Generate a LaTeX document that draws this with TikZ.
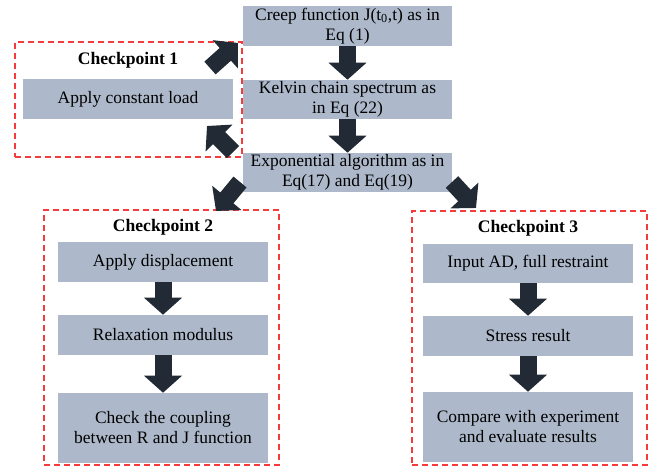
\documentclass[tikz,border=0pt]{standalone}
\usepackage{fontspec}
\setmainfont{Liberation Serif}
\usetikzlibrary{arrows.meta}
\definecolor{boxfill}{HTML}{ADB9CA}
\definecolor{arrowcol}{HTML}{222A35}
\definecolor{dashred}{HTML}{F53B3B}
\tikzset{
  stepbox/.style={fill=boxfill, draw=none, inner sep=0pt, align=center, font=\fontsize{13.1pt}{15pt}\selectfont},
  mainbox/.style={stepbox, minimum width=156.75pt},
  sidebox/.style={stepbox, minimum width=157.5pt},
  cpbox/.style={draw=dashred, line width=1.1pt, dash pattern=on 4.5pt off 3pt, inner sep=0pt},
  cptitle/.style={font=\fontsize{13.2pt}{15pt}\selectfont\bfseries, inner sep=0pt},
  blockarrow/.style={draw=arrowcol, line width=12.75pt, line cap=butt,
    -{Triangle[width=27.75pt, length=12.75pt]}}
}
\begin{document}
\begin{tikzpicture}[x=0.75pt,y=-0.75pt]
\useasboundingbox (0,0) rectangle (649,468);
\fill[white] (0,0) rectangle (649,468);

% dashed checkpoint frames
\node[cpbox, minimum width=170.25pt, minimum height=86.25pt] (cp1) at (128.5,99.5) {};
\node[cpbox, minimum width=176.25pt, minimum height=191.25pt] (cp2) at (161.5,337.5) {};
\node[cpbox, minimum width=176.25pt, minimum height=190.5pt] (cp3) at (529.5,338) {};

% main column
\node[mainbox, minimum height=30pt] (creep) at (347.5,26) {Creep function J(t\textsubscript{0},t) as in\\Eq (1)};
\node[mainbox, minimum height=29.25pt] (kelvin) at (347.5,99.5) {Kelvin chain spectrum as\\in Eq (22)};
\node[mainbox, minimum height=29.25pt] (expo) at (347.5,172.5) {Exponential algorithm as in\\Eq(17) and Eq(19)};

% checkpoint 1
\node[cptitle] (t1) at (128,60) {Checkpoint 1};
\node[sidebox, minimum height=30pt] (load) at (128,99) {Apply constant load};

% checkpoint 2
\node[cptitle] (t2) at (163,227) {Checkpoint 2};
\node[sidebox, minimum height=30pt] (disp) at (163,262) {Apply displacement};
\node[sidebox, minimum height=30pt] (relax) at (163,335) {Relaxation modulus};
\node[sidebox, minimum height=52.5pt] (couple) at (163,428) {Check the coupling\\between R and J function};

% checkpoint 3
\node[cptitle] (t3) at (528,228) {Checkpoint 3};
\node[sidebox, minimum height=29.25pt] (input) at (528,263.5) {Input AD, full restraint};
\node[sidebox, minimum height=30pt] (stress) at (528,336) {Stress result};
\node[sidebox, minimum height=52.5pt] (compare) at (528,427) {Compare with experiment\\and evaluate results};

% arrow end points
\coordinate (u1) at (210,68);
\coordinate (u2) at (238,43);
\coordinate (l1) at (233,152);
\coordinate (l2) at (207,126);
\coordinate (sw1) at (240,182);
\coordinate (sw2) at (216,211);
\coordinate (se1) at (452,182);
\coordinate (se2) at (476,208);

% arrows
\draw[blockarrow] (creep.south) -- (kelvin.north);
\draw[blockarrow] (kelvin.south) -- (expo.north);
\draw[blockarrow] (u1) -- (u2);
\draw[blockarrow] (l1) -- (l2);
\draw[blockarrow] (sw1) -- (sw2);
\draw[blockarrow] (se1) -- (se2);
\draw[blockarrow] (disp.south) -- (relax.north);
\draw[blockarrow] (relax.south) -- (couple.north);
\draw[blockarrow] (input.south) -- (stress.north);
\draw[blockarrow] (stress.south) -- (compare.north);
\end{tikzpicture}
\end{document}
